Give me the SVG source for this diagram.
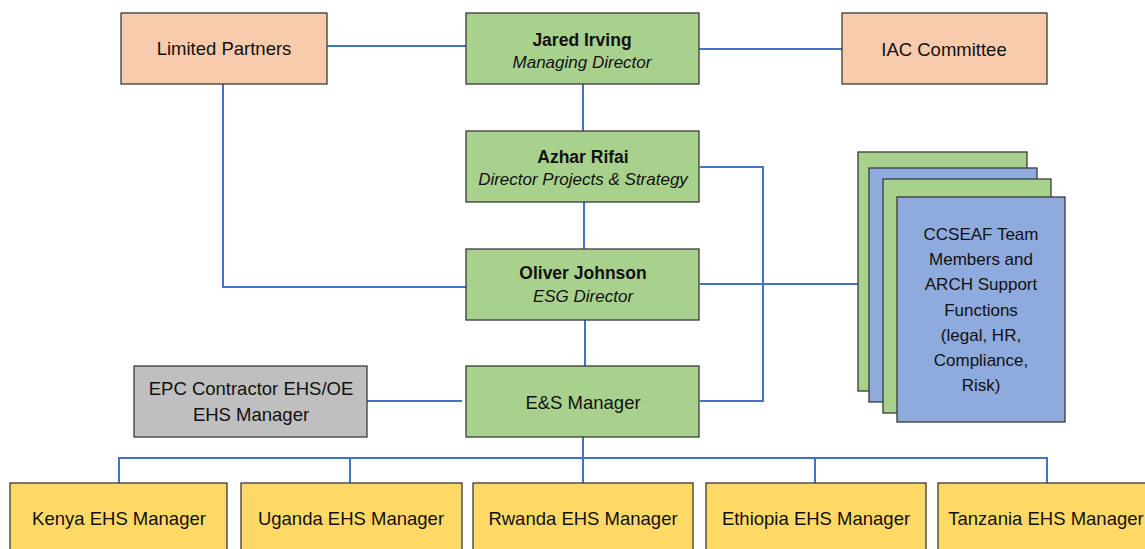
<svg xmlns="http://www.w3.org/2000/svg" width="1145" height="549" viewBox="0 0 1145 549">
<style>
.box{stroke:#3a3a3a;stroke-width:1.3}
.g{fill:#A9D18E}.p{fill:#F8CBAD}.b{fill:#8FAADC}.gr{fill:#BFBFBF}.y{fill:#FFD966}
text{font-family:"Liberation Sans",Arial,sans-serif;fill:#111;text-anchor:middle}
.t{font-size:18.5px}.bd{font-size:17.5px;font-weight:bold}.it{font-size:17px;font-style:italic}.s{font-size:17px}
.c{fill:none;stroke:#4472C4;stroke-width:2}
</style>
<rect width="1145" height="549" fill="#fff"/>
<g id="connectors">
<path class="c" d="M327 46H466"/>
<path class="c" d="M699 49H842"/>
<path class="c" d="M223 84V287H466"/>
<path class="c" d="M583 84V131"/>
<path class="c" d="M584 202V249"/>
<path class="c" d="M585 320V366"/>
<path class="c" d="M700 167H763V401H700"/>
<path class="c" d="M700 284H858"/>
<path class="c" d="M367 401H462"/>
<path class="c" d="M583 437V458"/>
<path class="c" d="M119 483V458H1047V483M350 458V483M583 458V483M815 458V483"/>
</g>
<g id="limited-partners"><rect class="box p" x="121" y="13" width="206" height="71"/><text class="t" x="224" y="55">Limited Partners</text></g>
<g id="jared-irving"><rect class="box g" x="466" y="13" width="233" height="71"/><text class="bd" x="582" y="46">Jared Irving</text><text class="it" x="582" y="68">Managing Director</text></g>
<g id="iac-committee"><rect class="box p" x="842" y="13" width="205" height="71"/><text class="t" x="944" y="56">IAC Committee</text></g>
<g id="azhar-rifai"><rect class="box g" x="466" y="131" width="233" height="71"/><text class="bd" x="583" y="163">Azhar Rifai</text><text class="it" x="583" y="185">Director Projects &amp; Strategy</text></g>
<g id="oliver-johnson"><rect class="box g" x="466" y="249" width="233" height="71"/><text class="bd" x="583" y="279">Oliver Johnson</text><text class="it" x="583" y="302">ESG Director</text></g>
<g id="epc-contractor"><rect class="box gr" x="134" y="366" width="233" height="71"/><text class="t" x="251" y="395">EPC Contractor EHS/OE</text><text class="t" x="251" y="421">EHS Manager</text></g>
<g id="es-manager"><rect class="box g" x="466" y="366" width="233" height="71"/><text class="t" x="583" y="409">E&amp;S Manager</text></g>
<g id="ccseaf-team">
<rect class="box g" x="858" y="152" width="169" height="239"/>
<rect class="box b" x="869" y="168" width="168" height="234"/>
<rect class="box g" x="883" y="179" width="168" height="234"/>
<rect class="box b" x="897" y="197" width="168" height="225"/>
<text class="s" x="981" y="240">CCSEAF Team</text>
<text class="s" x="981" y="265">Members and</text>
<text class="s" x="981" y="290">ARCH Support</text>
<text class="s" x="981" y="316">Functions</text>
<text class="s" x="981" y="341">(legal, HR,</text>
<text class="s" x="981" y="366">Compliance,</text>
<text class="s" x="981" y="391">Risk)</text>
</g>
<g id="kenya"><rect class="box y" x="10" y="483" width="217" height="80"/><text class="t" x="119" y="525">Kenya EHS Manager</text></g>
<g id="uganda"><rect class="box y" x="241" y="483" width="221" height="80"/><text class="t" x="351" y="525">Uganda EHS Manager</text></g>
<g id="rwanda"><rect class="box y" x="473" y="483" width="220" height="80"/><text class="t" x="583" y="525">Rwanda EHS Manager</text></g>
<g id="ethiopia"><rect class="box y" x="706" y="483" width="220" height="80"/><text class="t" x="816" y="525">Ethiopia EHS Manager</text></g>
<g id="tanzania"><rect class="box y" x="938" y="483" width="220" height="80"/><text class="t" x="1046" y="525">Tanzania EHS Manager</text></g>
</svg>
